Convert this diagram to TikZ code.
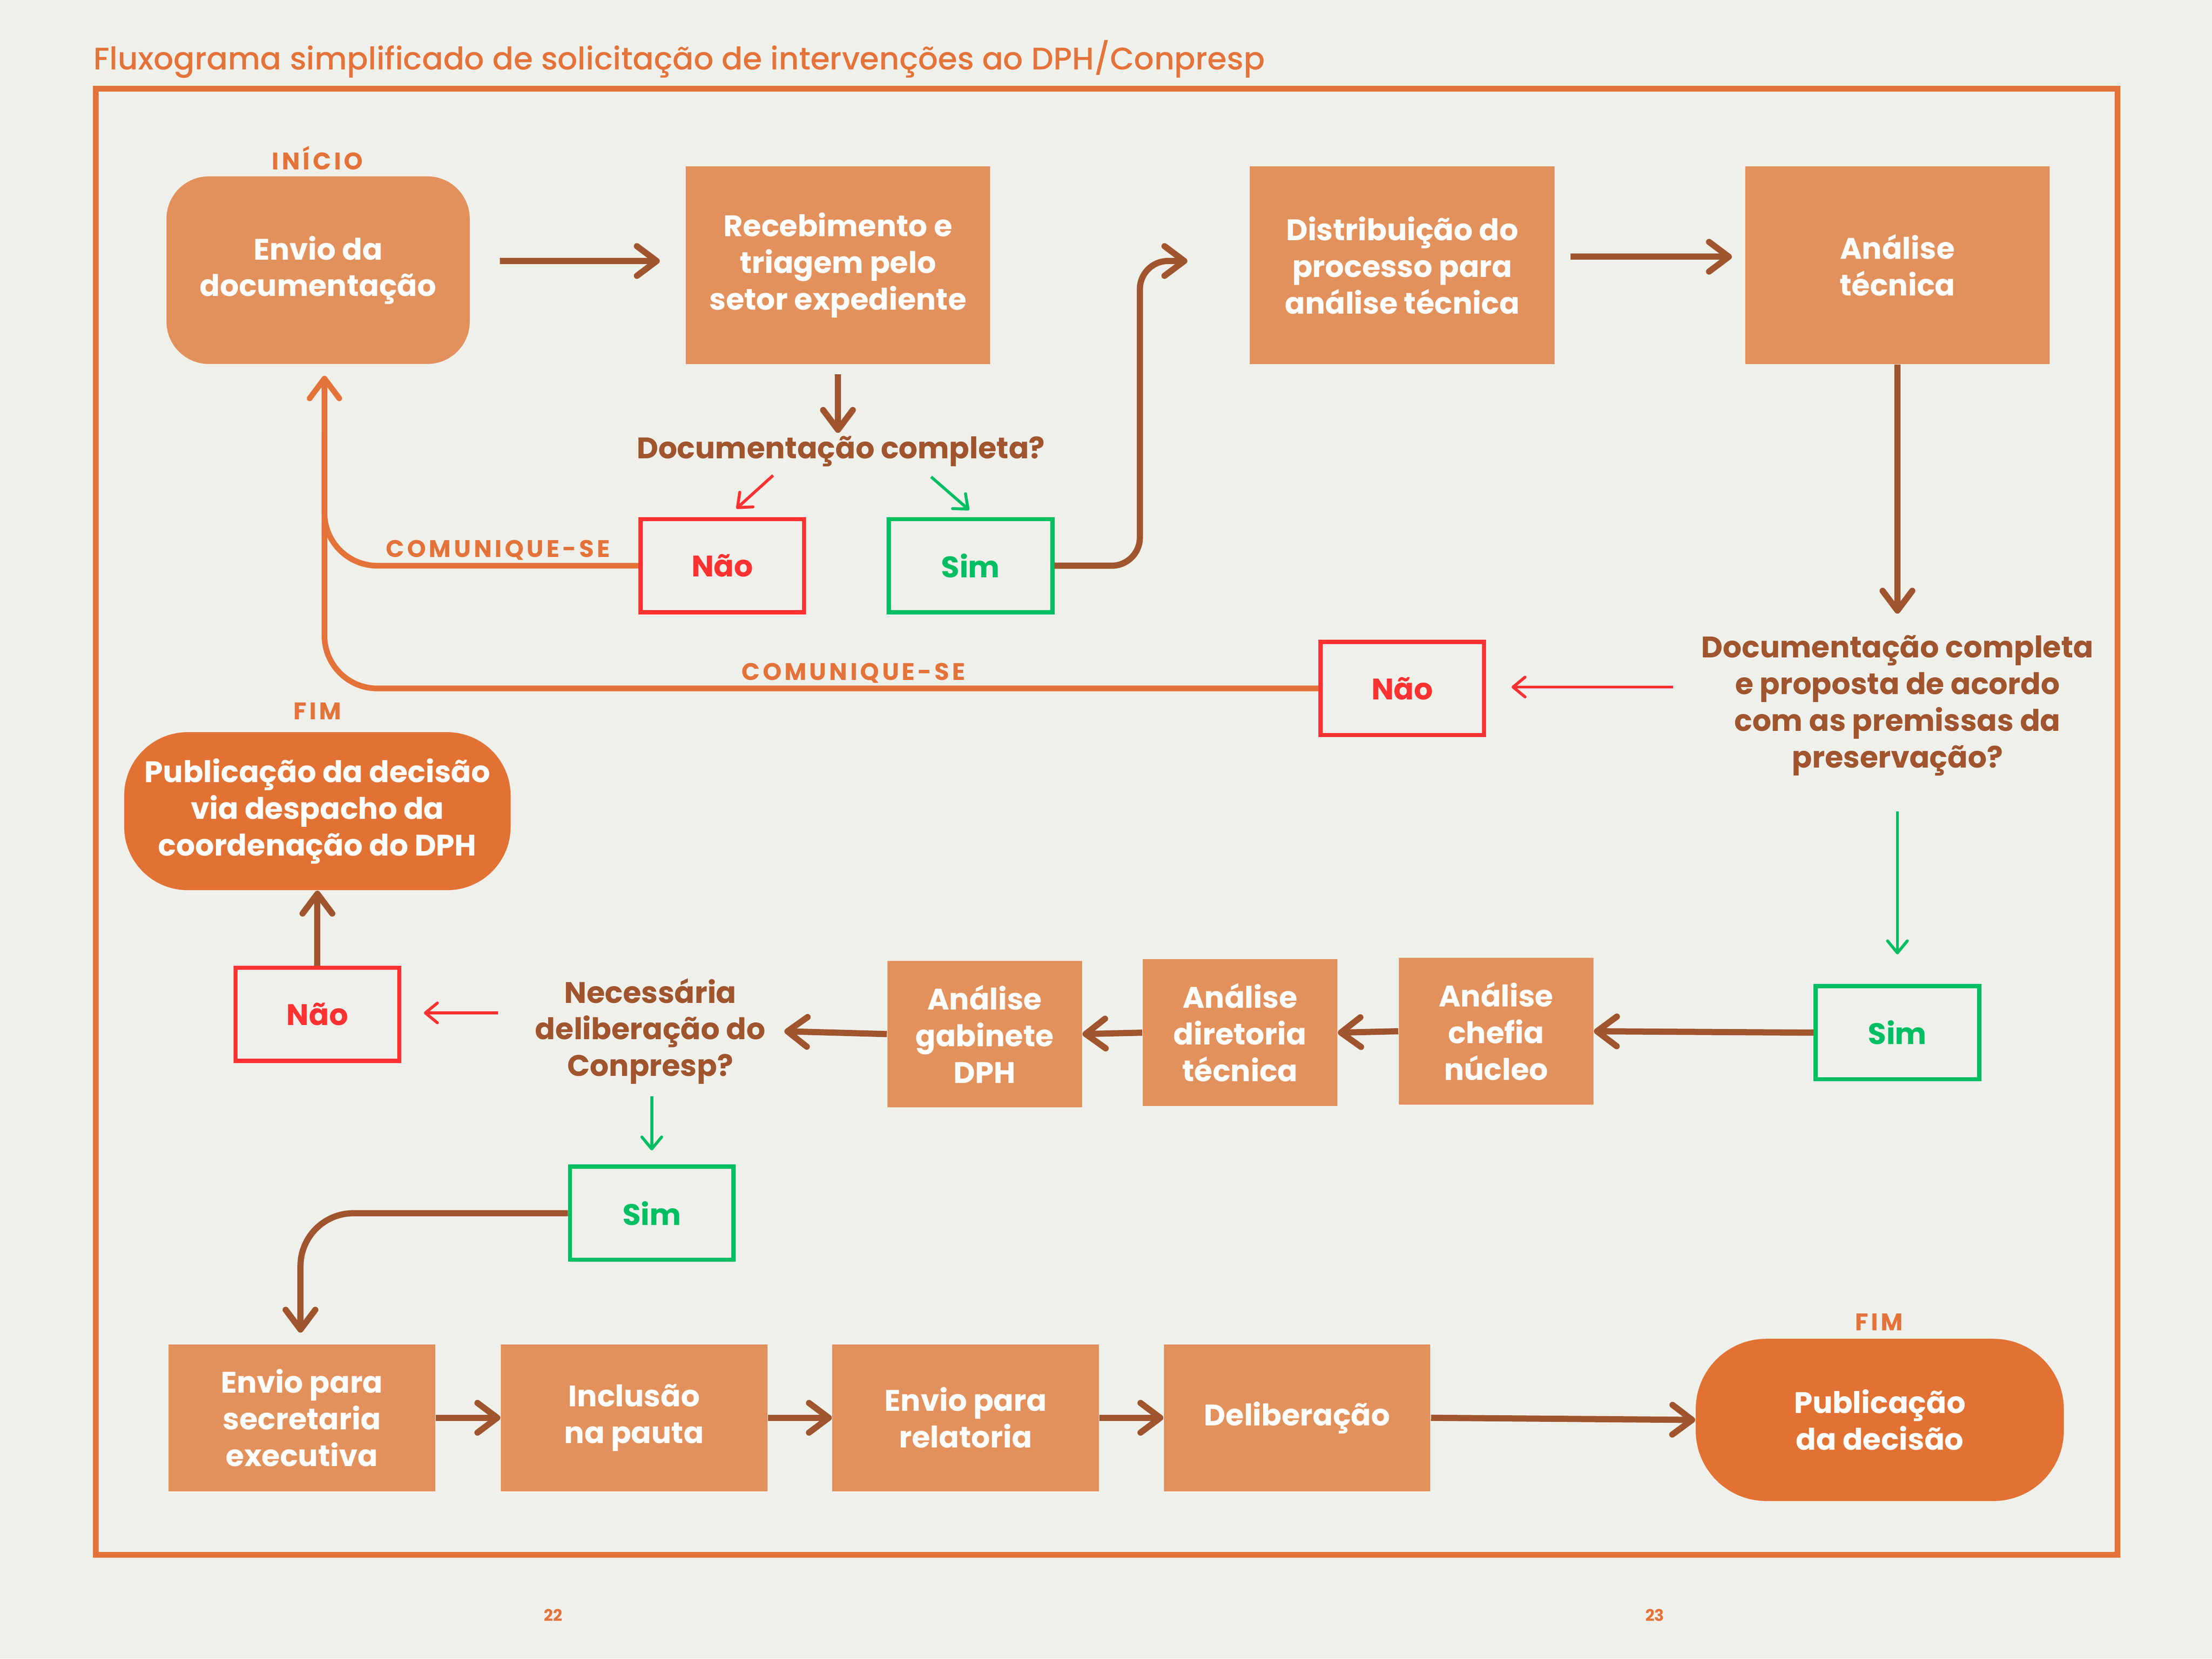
\documentclass[tikz,border=0pt]{standalone}
\usepackage{fontspec}
\setmainfont{Poppins}
\newfontfamily\titlefam{Poppins Medium}
\usetikzlibrary{arrows.meta,calc}
\definecolor{bg}{HTML}{F0F0EB}
\definecolor{frameor}{HTML}{E4733A}
\definecolor{boxfill}{HTML}{E3915C}
\definecolor{darkfill}{HTML}{E27234}
\definecolor{brownc}{HTML}{A0552E}
\definecolor{redc}{HTML}{FF3131}
\definecolor{greenc}{HTML}{00BF63}
\newcommand\bxfont{\bfseries\fontsize{12}{14.8}\selectfont}
\newcommand\lblfont{\bfseries\fontsize{9.7}{10.5}\selectfont\addfontfeature{LetterSpace=12}}
\begin{document}
\begin{tikzpicture}[x=0.02cm,y=-0.02cm,
  box/.style={fill=boxfill, text=white, font=\bxfont, align=center, inner sep=0pt},
  bigbox/.style={box, minimum width=4.32cm, minimum height=2.80cm},
  midbox/.style={box, minimum width=2.76cm, minimum height=2.08cm},
  lowbox/.style={box, minimum width=3.78cm, minimum height=2.08cm},
  endbox/.style={box, fill=darkfill, rounded corners=0.9cm},
  nobox/.style={draw=redc, line width=1.7pt, text=redc, font=\bxfont, minimum width=2.32cm, minimum height=1.32cm, inner sep=0pt},
  yesbox/.style={nobox, draw=greenc, text=greenc},
  question/.style={text=brownc, font=\bxfont, align=center, inner sep=0pt},
  lbl/.style={text=frameor, font=\lblfont, inner sep=0pt},
  brownarrow/.style={draw=brownc, line width=2.5pt, -{Straight Barb[length=0.28cm,width=0.42cm,round]}},
  orarrow/.style={draw=frameor, line width=2.3pt, -{Straight Barb[length=0.28cm,width=0.42cm,round]}},
  orline/.style={draw=frameor, line width=2.3pt},
  redarrow/.style={draw=redc, line width=1.2pt, -{Straight Barb[length=0.17cm,width=0.28cm,round]}},
  greenarrow/.style={draw=greenc, line width=1.2pt, -{Straight Barb[length=0.17cm,width=0.28cm,round]}}
]
\fill[bg] (0,0) rectangle (1568,1175.8);
\useasboundingbox (0,0) rectangle (1568,1175.8);
\draw[frameor, line width=2.3pt] (68,63) rectangle (1501,1102);
\node[anchor=west, text=frameor, font=\titlefam\fontsize{12.6}{14}\selectfont, inner sep=0pt] (title) at (66,42) {Fluxograma simplificado de solicitação de intervenções ao DPH/Conpresp};

% nodes
\node[box, minimum width=4.30cm, minimum height=2.66cm, rounded corners=0.6cm] (envio) at (225.5,191.5) {Envio da\\documentação};
\node[lbl] (inicio) at (225,112) {INÍCIO};
\node[bigbox] (receb) at (594,188) {Recebimento e\\triagem pelo\\setor expediente};
\node[bigbox] (distr) at (994,188) {Distribuição do\\processo para\\análise técnica};
\node[bigbox] (analise) at (1345,188) {Análise\\técnica};
\node[question] (q1) at (596,320) {Documentação completa?};
\node[nobox] (nao1) at (512,401) {Não};
\node[yesbox] (sim1) at (688,401) {Sim};
\node[question] (q2) at (1345,500) {Documentação completa\\e proposta de acordo\\com as premissas da\\preservação?};
\node[nobox] (nao2) at (994,488) {Não};
\node[yesbox] (sim2) at (1345,732) {Sim};
\node[midbox] (chefia) at (1060.5,731) {Análise\\chefia\\núcleo};
\node[midbox] (diret) at (879,732) {Análise\\diretoria\\técnica};
\node[midbox] (gabin) at (698,733) {Análise\\gabinete\\DPH};
\node[question] (q3) at (461,731) {Necessária\\deliberação do\\Conpresp?};
\node[nobox] (nao3) at (225,719) {Não};
\node[endbox, minimum width=5.48cm, minimum height=2.24cm] (pub1) at (225,575) {Publicação da decisão\\via despacho da\\coordenação do DPH};
\node[lbl] (fim1) at (225,504) {FIM};
\node[yesbox] (sim3) at (462,860) {Sim};
\node[lowbox] (sec) at (214,1005) {Envio para\\secretaria\\executiva};
\node[lowbox] (incl) at (449.5,1005) {Inclusão\\na pauta};
\node[lowbox] (relat) at (684.5,1005) {Envio para\\relatoria};
\node[lowbox] (delib) at (919.5,1005) {Deliberação};
\node[endbox, minimum width=5.22cm, minimum height=2.30cm, rounded corners=1.0cm] (pub2) at (1332.5,1006.5) {Publicação\\da decisão};
\node[lbl] (fim2) at (1332,937) {FIM};
\node[lbl] (com1) at (353,390) {COMUNIQUE-SE};
\node[lbl] (com2) at (605,477) {COMUNIQUE-SE};
\node[text=frameor, font=\bfseries\fontsize{6.5}{7}\selectfont, inner sep=0pt] (p22) at (392,1145) {22};
\node[text=frameor, font=\bfseries\fontsize{6.5}{7}\selectfont, inner sep=0pt] (p23) at (1173,1145) {23};

% connectors
\draw[brownarrow, shorten <=0.42cm, shorten >=0.36cm] ([yshift=0.13cm]envio.east) -- ([yshift=0.06cm]receb.west);
\draw[brownarrow, shorten <=0.14cm, shorten >=0.04cm] (receb.south) -- (receb.south |- q1.north);
\draw[redarrow] ($(q1)+(-48,17)$) -- ($(nao1.north)+(10,-6)$);
\draw[greenarrow] ($(q1)+(64,18)$) -- ($(sim1.north)+(-1,-5)$);
\draw[brownarrow, rounded corners=0.4cm, shorten >=0.88cm] (sim1.east) -- (808,401) -- (808,185) -- ([yshift=0.06cm]distr.west);
\draw[brownarrow, shorten <=0.22cm, shorten >=0.18cm] ([yshift=0.12cm]distr.east) -- ([yshift=0.12cm]analise.west);
\draw[brownarrow] (analise.south) -- ($(q2)+(0,-65)$);
\draw[redarrow] ($(q2)+(-159,-13)$) -- ($(nao2.east)+(18,-1)$);
\draw[orarrow, rounded corners=0.75cm, shorten >=0.16cm] (nao2.west) -| ([xshift=0.09cm]envio.south);
\draw[orline, rounded corners=0.75cm] (nao1.west) -| ($(envio.south)+(4.5,50)$);
\draw[greenarrow] ($(q2)+(0,75)$) -- ($(sim2.north)+(0,-21)$);
\draw[brownarrow] (sim2.west) -- (chefia.east);
\draw[brownarrow] (chefia.west) -- (diret.east);
\draw[brownarrow] (diret.west) -- (gabin.east);
\draw[brownarrow] (gabin.west) -- ($(q3)+(95,0)$);
\draw[redarrow] ($(q3)+(-108,-13)$) -- ($(nao3.east)+(16,-1)$);
\draw[brownarrow] (nao3.north) -- (pub1.south);
\draw[greenarrow] ($(q3)+(1,46)$) -- ($(sim3.north)+(0,-10)$);
\draw[brownarrow, rounded corners=0.75cm, shorten >=0.16cm] (sim3.west) -| ([xshift=-0.02cm]sec.north);
\draw[brownarrow] (sec.east) -- (incl.west);
\draw[brownarrow] (incl.east) -- (relat.west);
\draw[brownarrow] (relat.east) -- (delib.west);
\draw[brownarrow] (delib.east) -- (pub2.west);
\end{tikzpicture}
\end{document}
